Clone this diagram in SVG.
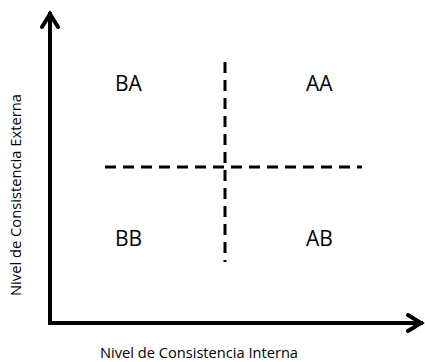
<svg xmlns="http://www.w3.org/2000/svg" width="425" height="362" viewBox="0 0 425 362">
<style>
.axis{stroke:#000;stroke-width:4;fill:none;stroke-linecap:square}
.head{stroke:#000;stroke-width:4;fill:none;stroke-linecap:round;stroke-linejoin:miter}
.dash{stroke:#000;stroke-width:3;fill:none;stroke-dasharray:11 7}
.q{font-family:"Open Sans","Liberation Sans",sans-serif;font-size:21px;fill:#000}
.lbl{font-family:"Open Sans","Liberation Sans",sans-serif;font-size:14px;fill:#000}
</style>
<rect width="425" height="362" fill="#fff"/>
<g id="connectors">
<path class="axis" d="M50,14 V323 H421"/>
<path class="head" d="M42,27 L50,14 L58,27"/>
<path class="head" d="M408,315 L421,323 L408,331"/>
<path class="dash" d="M105,167 H362"/>
<path class="dash" d="M225,62 V262"/>
</g>
<g id="BA"><text class="q" x="115" y="91">BA</text></g>
<g id="AA"><text class="q" x="306" y="91">AA</text></g>
<g id="BB"><text class="q" x="115" y="246">BB</text></g>
<g id="AB"><text class="q" x="306" y="246">AB</text></g>
<g id="xlabel"><text class="lbl" x="199" y="358" text-anchor="middle" textLength="198" lengthAdjust="spacingAndGlyphs">Nivel de Consistencia Interna</text></g>
<g id="ylabel"><text class="lbl" transform="translate(21,195) rotate(-90)" text-anchor="middle" textLength="202" lengthAdjust="spacingAndGlyphs">Nivel de Consistencia Externa</text></g>
</svg>
